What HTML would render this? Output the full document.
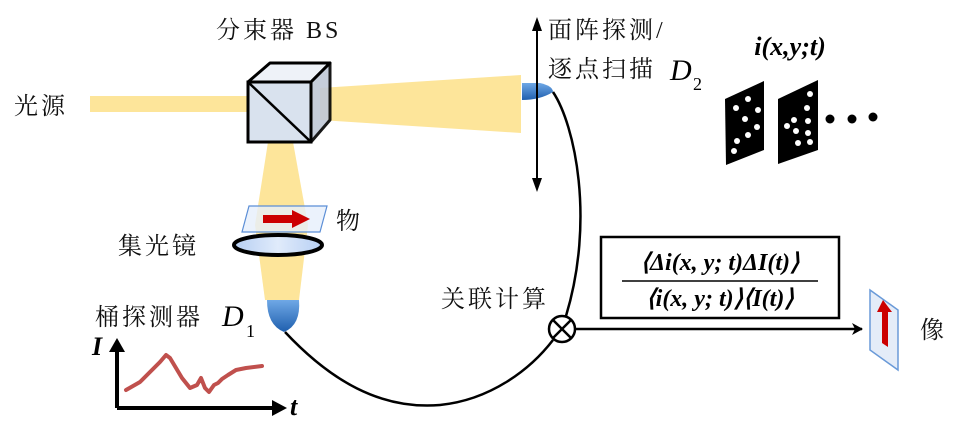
<!DOCTYPE html>
<html><head><meta charset="utf-8"><style>
body{margin:0;background:#fff;}
svg text{font-family:"Liberation Serif","Noto Serif CJK SC",serif;}
.cn{font-family:"Liberation Serif","Noto Serif CJK SC",serif;font-size:24px;fill:#111;letter-spacing:3px;}
</style></head><body>
<svg width="968" height="431" viewBox="0 0 968 431" xmlns="http://www.w3.org/2000/svg">
<defs>
<linearGradient id="det" x1="0" y1="0" x2="0" y2="1"><stop offset="0" stop-color="#6fa8e6"/><stop offset="1" stop-color="#1f5fae"/></linearGradient>
<linearGradient id="lens" x1="0" y1="0" x2="1" y2="0"><stop offset="0" stop-color="#b7cff3"/><stop offset="0.5" stop-color="#e0ebfb"/><stop offset="1" stop-color="#b7cff3"/></linearGradient>
<marker id="ah" markerWidth="12" markerHeight="12" refX="10" refY="6" orient="auto" markerUnits="userSpaceOnUse"><path d="M0,0 L11,6 L0,12 L3,6z" fill="#000"/></marker>
</defs>
<rect x="90" y="96" width="160" height="16" fill="#fde59a"/>
<polygon points="320,88 521,75 521,133 320,120" fill="#fde59a"/>
<polygon points="268,142 293,142 308,225 299,300 265,300 255,225" fill="#fde59a"/>
<polygon points="248,82 270,63 330,63 311,82" fill="#eef2f8" stroke="#000" stroke-width="3" stroke-linejoin="round"/>
<polygon points="311,82 330,63 330,120 311,142" fill="#bfc8d6" stroke="#000" stroke-width="3" stroke-linejoin="round" opacity="0.9"/>
<rect x="248" y="82" width="63" height="60" fill="#d9e2ee" stroke="#000" stroke-width="3"/>
<line x1="248" y1="82" x2="311" y2="142" stroke="#000" stroke-width="2.5"/>
<polygon points="249,206 327,206 320,232 242,232" fill="#e6effb" fill-opacity="0.8" stroke="#5b8ed6" stroke-width="1.2"/>
<polygon points="263,215 292,215 292,210 310,219 292,228 292,223 263,223" fill="#cc0000"/>
<ellipse cx="278" cy="245" rx="44" ry="10" fill="url(#lens)" stroke="#000" stroke-width="4"/>
<path d="M267,300 L299,300 Q301,325 284,332 Q267,325 267,300z" fill="url(#det)"/>
<path d="M522,83 L540,83 Q553,86 553,92 Q540,100 522,100z" fill="url(#det)"/>
<line x1="537" y1="28" x2="537" y2="182" stroke="#000" stroke-width="2"/>
<path d="M537,17 L532,31 L542,31z M537,192 L532,178 L542,178z" fill="#000"/>
<path d="M553,92 C575,125 595,220 566,316" fill="none" stroke="#000" stroke-width="2.5"/>
<path d="M285,332 C330,380 380,410 440,405 C490,400 530,370 553,340" fill="none" stroke="#000" stroke-width="2.5"/>
<circle cx="562" cy="329" r="13" fill="#fff" stroke="#000" stroke-width="2.5"/>
<line x1="553" y1="320" x2="571" y2="338" stroke="#000" stroke-width="2.5"/>
<line x1="571" y1="320" x2="553" y2="338" stroke="#000" stroke-width="2.5"/>
<line x1="575" y1="329" x2="862" y2="329" stroke="#000" stroke-width="2.5" marker-end="url(#ah)"/>
<rect x="601" y="237" width="238" height="81" fill="#fff" stroke="#000" stroke-width="2.5"/>
<text x="720" y="270" text-anchor="middle" font-size="24" font-weight="bold" font-style="italic">⟨Δi(x, y; t)ΔI(t)⟩</text>
<line x1="622" y1="281" x2="818" y2="281" stroke="#000" stroke-width="1.5"/>
<text x="720" y="306" text-anchor="middle" font-size="24" font-weight="bold" font-style="italic">⟨i(x, y; t)⟩⟨I(t)⟩</text>
<polygon points="870,290 898,310 898,370 870,350" fill="#e4ecf8" stroke="#6a9ad8" stroke-width="1.5"/>
<polygon points="881,300 890,312 886,312 886,347 880,343 880,312 875,312" fill="#cc0000" transform="translate(2,0)"/>
<polygon points="725,99 764,81 764,150 726,165" fill="#000"/>
<polygon points="778,99 818,80 818,150 778,164" fill="#000"/>
<g fill="#fff">
<circle cx="748" cy="99" r="3"/><circle cx="736" cy="108" r="3"/><circle cx="758" cy="110" r="3"/><circle cx="745" cy="119" r="3"/><circle cx="757" cy="127" r="3"/><circle cx="748" cy="135" r="3"/><circle cx="737" cy="141" r="3"/><circle cx="734" cy="151" r="3"/>
<circle cx="810" cy="94" r="3"/><circle cx="807" cy="108" r="3"/><circle cx="794" cy="120" r="3"/><circle cx="808" cy="121" r="3"/><circle cx="787" cy="126" r="3"/><circle cx="796" cy="131" r="3"/><circle cx="808" cy="133" r="3"/><circle cx="798" cy="143" r="3"/><circle cx="810" cy="142" r="3"/>
</g>
<circle cx="830" cy="119" r="4.5" fill="#000"/><circle cx="852" cy="119" r="4.5" fill="#000"/><circle cx="873" cy="117" r="4.5" fill="#000"/>
<text x="790" y="55" text-anchor="middle" font-size="26" font-weight="bold" font-style="italic">i(x,y;t)</text>
<line x1="117" y1="408" x2="117" y2="346" stroke="#000" stroke-width="4"/>
<path d="M117,338 L109,352 L125,352z" fill="#000"/>
<line x1="117" y1="408" x2="278" y2="408" stroke="#000" stroke-width="4"/>
<path d="M287,408 L272,400 L272,416z" fill="#000"/>
<path d="M126,390 L140,382 L150,372 L160,362 L166,355 L170,358 L176,368 L182,378 L190,388 L197,385 L201,378 L205,388 L209,392 L214,385 L218,383 L222,379 L228,375 L236,370 L246,368 L262,366" fill="none" stroke="#c0504d" stroke-width="4" stroke-linejoin="round" stroke-linecap="round"/>
<text x="92" y="355" font-size="26" font-weight="bold" font-style="italic">I</text>
<text x="290" y="415" font-size="26" font-weight="bold" font-style="italic">t</text>
<text class="cn" x="216" y="38">分束器 BS</text>
<text class="cn" x="14" y="114">光源</text>
<text class="cn" x="548" y="38">面阵探测/</text>
<text class="cn" x="548" y="77">逐点扫描</text>
<text x="670" y="80" font-size="30" font-style="italic">D</text><text x="693" y="90" font-size="18">2</text>
<text class="cn" x="336" y="229">物</text>
<text class="cn" x="118" y="254">集光镜</text>
<text class="cn" x="95" y="325">桶探测器</text>
<text x="222" y="326" font-size="30" font-style="italic">D</text><text x="246" y="337" font-size="18">1</text>
<text class="cn" x="441" y="307">关联计算</text>
<text class="cn" x="920" y="338">像</text>
</svg>
</body></html>
